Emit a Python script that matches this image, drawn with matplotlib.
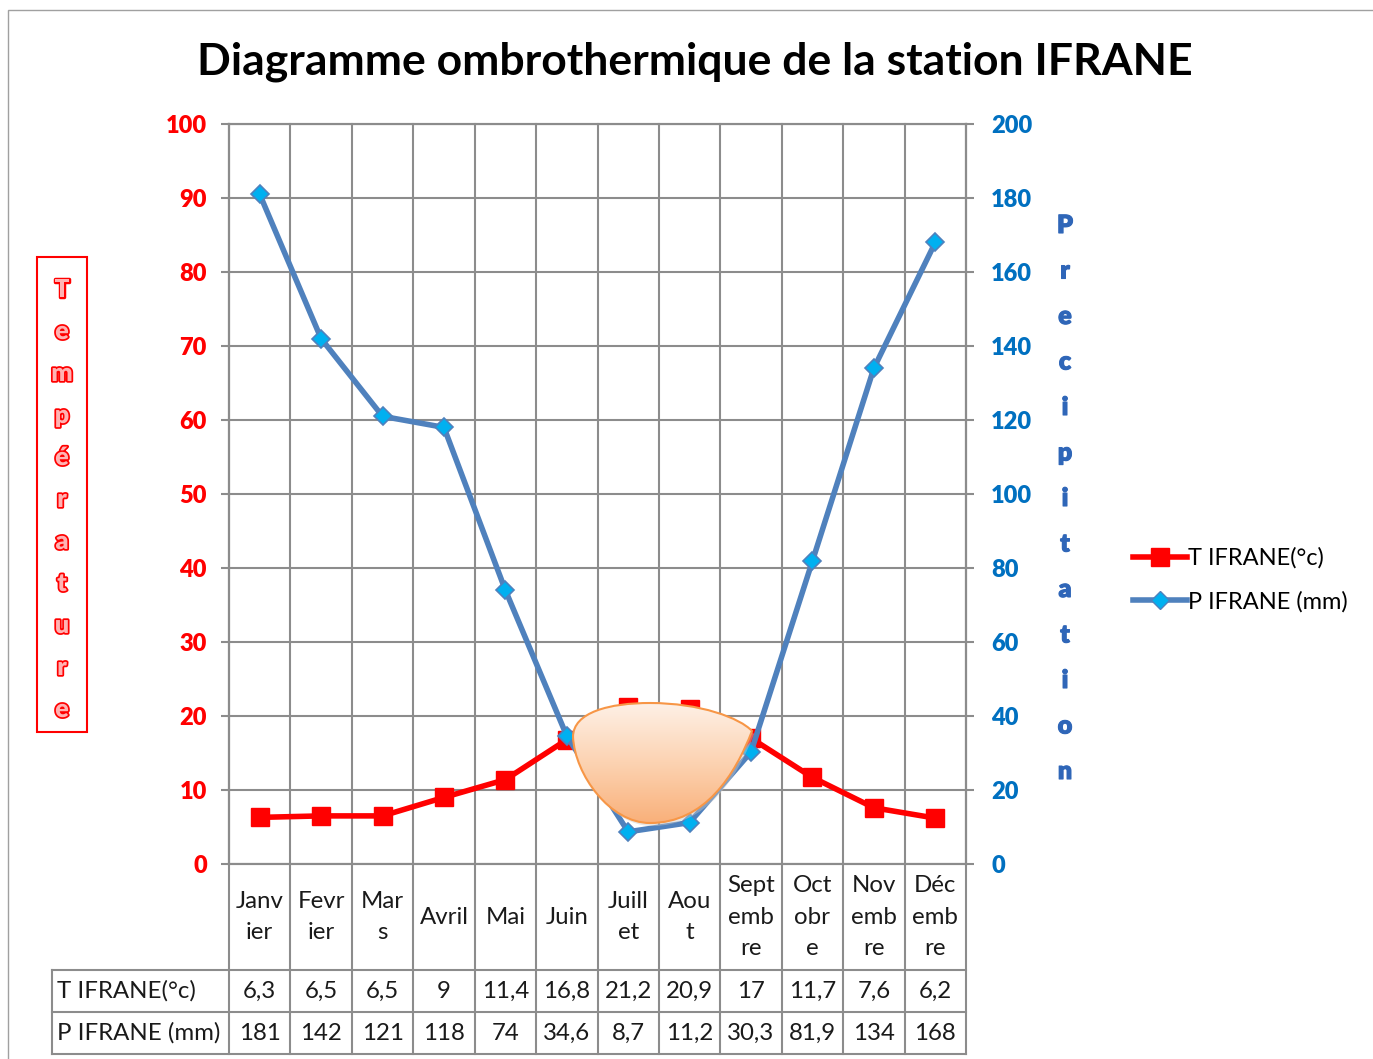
import numpy as np
import matplotlib
matplotlib.use("Agg")
import matplotlib.pyplot as plt
from matplotlib.path import Path
from matplotlib.patches import PathPatch, Rectangle
from matplotlib.lines import Line2D
from matplotlib.colors import LinearSegmentedColormap
import matplotlib.transforms as mtransforms
import matplotlib.patheffects as pe

plt.rcParams['font.family'] = ['Lato', 'DejaVu Sans']

# ---------------- data ----------------
months = ["Janv\nier", "Fevr\nier", "Mar\ns", "Avril", "Mai", "Juin",
          "Juill\net", "Aou\nt", "Sept\nemb\nre", "Oct\nobr\ne", "Nov\nemb\nre", "Déc\nemb\nre"]
temp = [6.3, 6.5, 6.5, 9, 11.4, 16.8, 21.2, 20.9, 17, 11.7, 7.6, 6.2]
precip = [181, 142, 121, 118, 74, 34.6, 8.7, 11.2, 30.3, 81.9, 134, 168]
temp_label = "T IFRANE(°c)"
precip_label = "P IFRANE (mm)"
title = "Diagramme ombrothermique de la station IFRANE"
left_title = "Température"
right_title = "Precipitation"
temp_ticks = list(range(0, 101, 10))
precip_ticks = list(range(0, 201, 20))

RED = "#FF0000"
BLUE_LINE = "#4F81BD"
BLUE_TXT = "#0070C0"
GRID = "#8C8C8C"
TXT = "#1A1A1A"
TFS = 17.3

W, H = 1373, 1059
fig = plt.figure(figsize=(W / 100, H / 100), dpi=100)

def fx(px):
    return px / W

def fy(py):
    return 1 - py / H

ax_l, ax_r, ax_t, ax_b = 229, 966, 124, 864
ax = fig.add_axes([fx(ax_l), fy(ax_b), fx(ax_r) - fx(ax_l), fy(ax_t) - fy(ax_b)])
ax2 = ax.twinx()

n = len(months)
x = np.arange(n)
ax.set_xlim(-0.5, n - 0.5)
ax.set_ylim(0, 100)
ax2.set_ylim(0, 200)

# figure border
fig.add_artist(Rectangle((fx(8), -0.01), 1.0, fy(10) + 0.01, transform=fig.transFigure,
                         fill=False, edgecolor="#A0A0A0", lw=1.0))

# spines
for a in (ax, ax2):
    for s in a.spines.values():
        s.set_color(GRID)
        s.set_linewidth(1.5)
    a.tick_params(axis='x', bottom=False, labelbottom=False, top=False)

# horizontal grid
for t in temp_ticks:
    ax.axhline(t, color=GRID, lw=1.5, zorder=0.5)

# table geometry (axes fraction)
row_hdr = -(970 - 864) / 740
row_t = -(1012 - 864) / 740
row_p = -(1054 - 864) / 740
trans = mtransforms.blended_transform_factory(ax.transData, ax.transAxes)
col_w = (ax_r - ax_l) / n
x_lab_left = -0.5 - (ax_l - 52) / col_w

# vertical lines (grid + table columns)
for b in np.arange(-0.5, n, 1.0):
    ax.plot([b, b], [row_p, 1], transform=trans, color=GRID, lw=1.5, clip_on=False, zorder=0.5)
# horizontal table lines
for yy in (row_hdr, row_t, row_p):
    ax.plot([x_lab_left, n - 0.5], [yy, yy], transform=trans, color=GRID, lw=1.5, clip_on=False)
ax.plot([x_lab_left, x_lab_left], [row_hdr, row_p], transform=trans, color=GRID, lw=1.5, clip_on=False)

# table texts
for i, m in enumerate(months):
    ax.text(i, row_hdr / 2, m, transform=trans, ha='center', va='center', fontsize=TFS,
            linespacing=1.62, color=TXT)
    ax.text(i, (row_hdr + row_t) / 2, f"{temp[i]:g}".replace('.', ','), transform=trans,
            ha='center', va='center', fontsize=TFS, color=TXT)
    ax.text(i, (row_t + row_p) / 2, f"{precip[i]:g}".replace('.', ','), transform=trans,
            ha='center', va='center', fontsize=TFS, color=TXT)
ax.text(x_lab_left + 0.08, (row_hdr + row_t) / 2, temp_label, transform=trans, ha='left', va='center',
        fontsize=TFS, color=TXT)
ax.text(x_lab_left + 0.08, (row_t + row_p) / 2, precip_label, transform=trans, ha='left', va='center',
        fontsize=TFS, color=TXT)

# y ticks
ax.set_yticks(temp_ticks)
ax.set_yticklabels([str(t) for t in temp_ticks], color=RED, fontweight='heavy', fontsize=17)
ax.tick_params(axis='y', direction='out', length=6, width=1.5, color=GRID, pad=10)
ax2.set_yticks(precip_ticks)
ax2.set_yticklabels([str(t) for t in precip_ticks], color=BLUE_TXT, fontweight='heavy', fontsize=17)
ax2.tick_params(axis='y', direction='out', length=6, width=1.5, color=GRID, pad=12)

# series
ax.plot(x, temp, color=RED, lw=4, marker='s', markersize=13, markerfacecolor=RED,
        markeredgecolor=RED, zorder=3)
ax2.plot(x, precip, color=BLUE_LINE, lw=4, marker='D', markersize=9.5, markerfacecolor="#00B0F0",
         markeredgecolor=BLUE_LINE, markeredgewidth=1.2, zorder=3)

# dry-period highlight shape (annotation)
def to_data(px, py):
    xd = (px - ax_l) / col_w - 0.5
    yd = (ax_b - py) / (ax_b - ax_t) * 200
    return (xd, yd)

pts = [(573, 737),
       (573, 712), (610, 703), (650, 703),
       (700, 703), (740, 718), (752, 731),
       (735, 775), (705, 823), (650, 823),
       (610, 823), (575, 775), (573, 737)]
codes = [Path.MOVETO] + [Path.CURVE4] * 12
verts = [to_data(*p) for p in pts]
path = Path(verts, codes)
shadow = PathPatch(path, facecolor="#C8C8C8", edgecolor='none', alpha=0.45, zorder=4,
                   transform=ax2.transData + mtransforms.ScaledTranslation(2 / 100, -3 / 100, fig.dpi_scale_trans))
ax2.add_patch(shadow)
patch = PathPatch(path, facecolor='none', edgecolor="#F79646", lw=1.5, zorder=6)
ax2.add_patch(patch)
xs = [v[0] for v in verts]
ys = [v[1] for v in verts]
grad = np.linspace(0, 1, 256).reshape(-1, 1)
cmap = LinearSegmentedColormap.from_list("peach", ["#FEF1E7", "#FCD3B2", "#F9B07A"])
im = ax2.imshow(grad, extent=[min(xs), max(xs), min(ys), max(ys)], origin='upper', cmap=cmap,
                aspect='auto', zorder=5)
im.set_clip_path(patch)
ax.set_xlim(-0.5, n - 0.5)
ax2.set_xlim(-0.5, n - 0.5)
ax2.set_ylim(0, 200)

# title
fig.text(fx(695), fy(62), title, ha='center', va='center', fontsize=32, fontweight='bold', color="black")

# left vertical label (stacked letters)
fig.add_artist(Rectangle((fx(37), fy(732)), fx(87) - fx(37), fy(257) - fy(732), transform=fig.transFigure,
                         fill=False, edgecolor=RED, lw=1.5))
ys_l = np.linspace(290, 710, len(left_title))
for ch, yy in zip(left_title, ys_l):
    fig.text(fx(62), fy(yy), ch, ha='center', va='center', fontsize=18, fontweight='heavy',
             color="#FFB3B3", path_effects=[pe.withStroke(linewidth=2.5, foreground=RED)])

# right vertical label
ys_r = np.linspace(226, 772, len(right_title))
for ch, yy in zip(right_title, ys_r):
    fig.text(fx(1065), fy(yy), ch, ha='center', va='center', fontsize=18, fontweight='heavy',
             color="#2F66B8", path_effects=[pe.withStroke(linewidth=0.8, foreground="#2F66B8")])

# legend
handles = [Line2D([], [], color=RED, lw=4, marker='s', markersize=13, markerfacecolor=RED, markeredgecolor=RED),
           Line2D([], [], color=BLUE_LINE, lw=4, marker='D', markersize=9.5, markerfacecolor="#00B0F0",
                  markeredgecolor=BLUE_LINE)]
fig.legend(handles, [temp_label, precip_label], loc='center left',
           bbox_to_anchor=(fx(1124), fy(580)), frameon=False, fontsize=17,
           handlelength=2.25, handletextpad=0.05, labelspacing=0.95, borderaxespad=0)

fig.savefig("out.png", dpi=100)
